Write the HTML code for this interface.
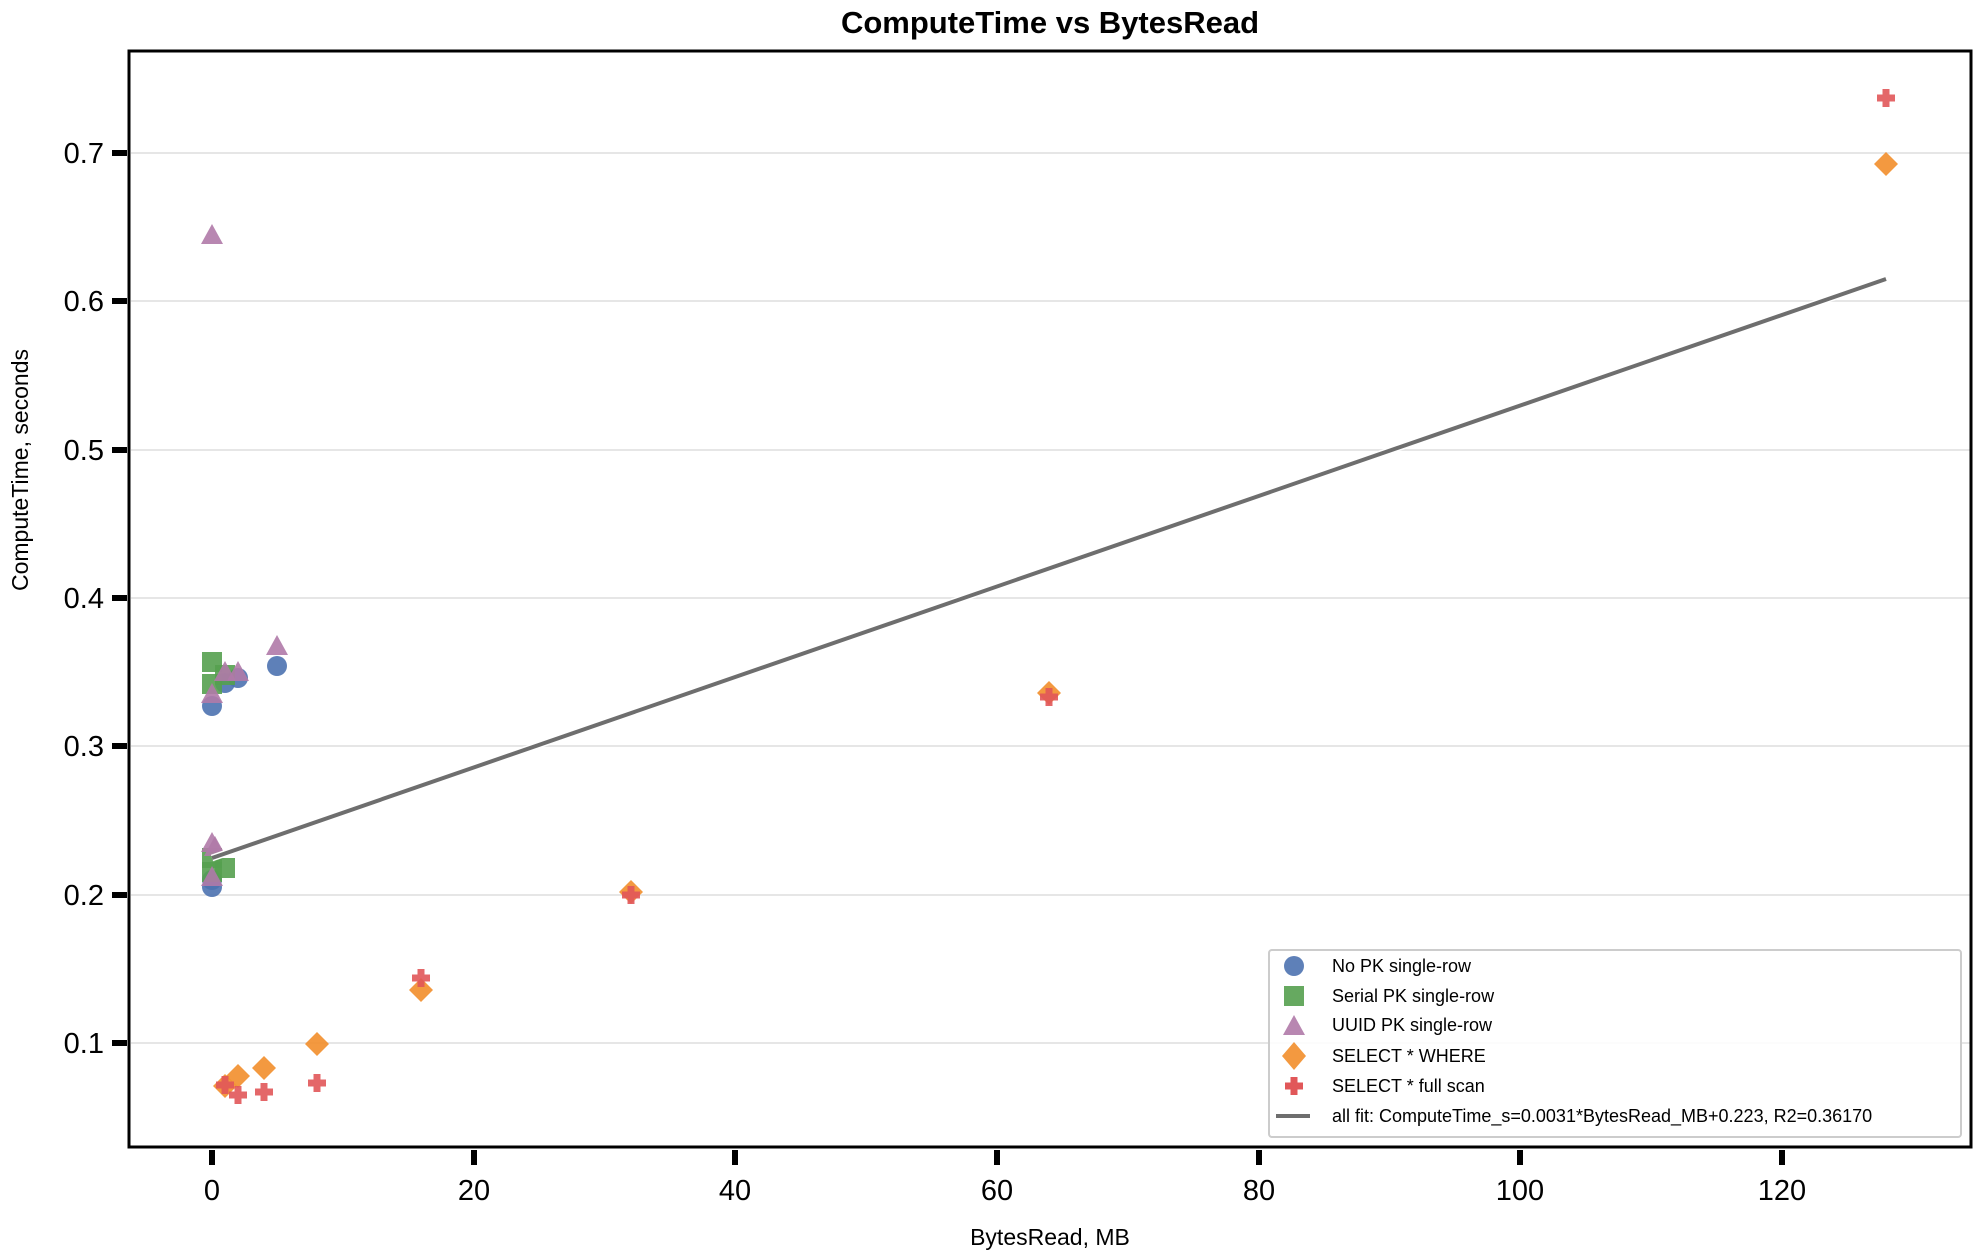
<!DOCTYPE html>
<html><head><meta charset="utf-8"><style>
body{margin:0;background:#fff;}
svg{display:block;font-family:"Liberation Sans","DejaVu Sans",sans-serif;}
</style></head><body>
<svg width="1980" height="1260" viewBox="0 0 1980 1260" xmlns="http://www.w3.org/2000/svg">
<rect width="1980" height="1260" fill="#fff"/>
<text x="1050" y="33" font-size="31" font-weight="bold" text-anchor="middle">ComputeTime vs BytesRead</text>
<g stroke="#e6e6e6" stroke-width="2">
<line x1="131" x2="1970" y1="1043" y2="1043"/><line x1="131" x2="1970" y1="895" y2="895"/>
<line x1="131" x2="1970" y1="746" y2="746"/><line x1="131" x2="1970" y1="598" y2="598"/>
<line x1="131" x2="1970" y1="450" y2="450"/><line x1="131" x2="1970" y1="301" y2="301"/>
<line x1="131" x2="1970" y1="153" y2="153"/>
</g>
<rect x="129" y="51" width="1842" height="1096" fill="none" stroke="#000" stroke-width="3"/>
<g stroke="#000" stroke-width="6">
<line x1="112" x2="127" y1="1043" y2="1043"/><line x1="112" x2="127" y1="895" y2="895"/>
<line x1="112" x2="127" y1="746" y2="746"/><line x1="112" x2="127" y1="598" y2="598"/>
<line x1="112" x2="127" y1="450" y2="450"/><line x1="112" x2="127" y1="301" y2="301"/>
<line x1="112" x2="127" y1="153" y2="153"/>
<line x1="212" x2="212" y1="1150" y2="1165"/><line x1="474" x2="474" y1="1150" y2="1165"/>
<line x1="735" x2="735" y1="1150" y2="1165"/><line x1="997" x2="997" y1="1150" y2="1165"/>
<line x1="1259" x2="1259" y1="1150" y2="1165"/><line x1="1520" x2="1520" y1="1150" y2="1165"/>
<line x1="1782" x2="1782" y1="1150" y2="1165"/>
</g>
<g font-size="29" text-anchor="end">
<text x="104" y="1053">0.1</text><text x="104" y="905">0.2</text><text x="104" y="756">0.3</text>
<text x="104" y="608">0.4</text><text x="104" y="460">0.5</text><text x="104" y="311">0.6</text>
<text x="104" y="163">0.7</text>
</g>
<g font-size="29" text-anchor="middle">
<text x="212" y="1200">0</text><text x="474" y="1200">20</text><text x="735" y="1200">40</text>
<text x="997" y="1200">60</text><text x="1259" y="1200">80</text><text x="1520" y="1200">100</text>
<text x="1782" y="1200">120</text>
</g>
<text x="1050" y="1245" font-size="23" text-anchor="middle">BytesRead, MB</text>
<text transform="translate(28,470) rotate(-90)" font-size="23" text-anchor="middle">ComputeTime, seconds</text>
<g fill="#4c72b0" fill-opacity="0.9">
<circle cx="212" cy="706" r="10"/><circle cx="212" cy="887" r="10"/><circle cx="225" cy="683" r="10"/>
<circle cx="238" cy="678" r="10"/><circle cx="277" cy="666" r="10"/><circle cx="212" cy="880" r="10"/>
</g>
<g fill="#55a04f" fill-opacity="0.9">
<rect x="202" y="652" width="20" height="20"/><rect x="202" y="674" width="20" height="20"/>
<rect x="215" y="665" width="20" height="20"/><rect x="202" y="848" width="20" height="20"/>
<rect x="202" y="862" width="20" height="20"/><rect x="215" y="858" width="20" height="20"/>
</g>
<g fill="#b07aa8" fill-opacity="0.9">
<path d="M212 224 L223 244 L201 244Z"/><path d="M212 683 L223 703 L201 703Z"/>
<path d="M225 661 L236 681 L214 681Z"/><path d="M238 661 L249 681 L227 681Z"/>
<path d="M277 635 L288 655 L266 655Z"/><path d="M212 832 L223 852 L201 852Z"/>
<path d="M215 836 L226 856 L204 856Z"/><path d="M212 866 L223 886 L201 886Z"/>
</g>
<polyline points="212,858 1886,279" fill="none" stroke="#fff" stroke-width="7"/>
<polyline points="212,858 1886,279" fill="none" stroke="#6e6e6e" stroke-width="4"/>
<g fill="#f28e2b" fill-opacity="0.9">
<path d="M225 1074 L237 1086 L225 1098 L213 1086Z"/><path d="M238 1064 L250 1076 L238 1088 L226 1076Z"/>
<path d="M264 1056 L276 1068 L264 1080 L252 1068Z"/><path d="M317 1032 L329 1044 L317 1056 L305 1044Z"/>
<path d="M421 978 L433 990 L421 1002 L409 990Z"/><path d="M631 880 L643 892 L631 904 L619 892Z"/>
<path d="M1049 681 L1061 693 L1049 705 L1037 693Z"/><path d="M1886 152 L1898 164 L1886 176 L1874 164Z"/>
</g>
<g stroke="#e15759" stroke-opacity="0.9" stroke-width="7">
<path d="M216 1085h18M225 1076v18"/><path d="M229 1095h18M238 1086v18"/>
<path d="M255 1092h18M264 1083v18"/><path d="M308 1083h18M317 1074v18"/>
<path d="M412 978h18M421 969v18"/><path d="M622 895h18M631 886v18"/>
<path d="M1040 697h18M1049 688v18"/><path d="M1877 98h18M1886 89v18"/>
</g>
<rect x="1269" y="950" width="692" height="187" fill="#fff" fill-opacity="0.85" stroke="#ccc" stroke-width="2" rx="3"/>
<circle cx="1294" cy="966" r="10" fill="#4c72b0" fill-opacity="0.9"/>
<rect x="1284" y="986" width="20" height="20" fill="#55a04f" fill-opacity="0.9"/>
<path d="M1294 1015 L1305 1035 L1283 1035Z" fill="#b07aa8" fill-opacity="0.9"/>
<path d="M1294 1042 L1306 1056 L1294 1070 L1282 1056Z" fill="#f28e2b" fill-opacity="0.9"/>
<path d="M1285 1086h18M1294 1077v18" stroke="#e15759" stroke-width="7"/>
<line x1="1276" x2="1310" y1="1116" y2="1116" stroke="#6e6e6e" stroke-width="4"/>
<g font-size="18">
<text x="1332" y="972">No PK single-row</text>
<text x="1332" y="1002">Serial PK single-row</text>
<text x="1332" y="1031">UUID PK single-row</text>
<text x="1332" y="1062">SELECT * WHERE</text>
<text x="1332" y="1092">SELECT * full scan</text>
<text x="1332" y="1122">all fit: ComputeTime_s=0.0031*BytesRead_MB+0.223, R2=0.36170</text>
</g>
</svg>
</body></html>
